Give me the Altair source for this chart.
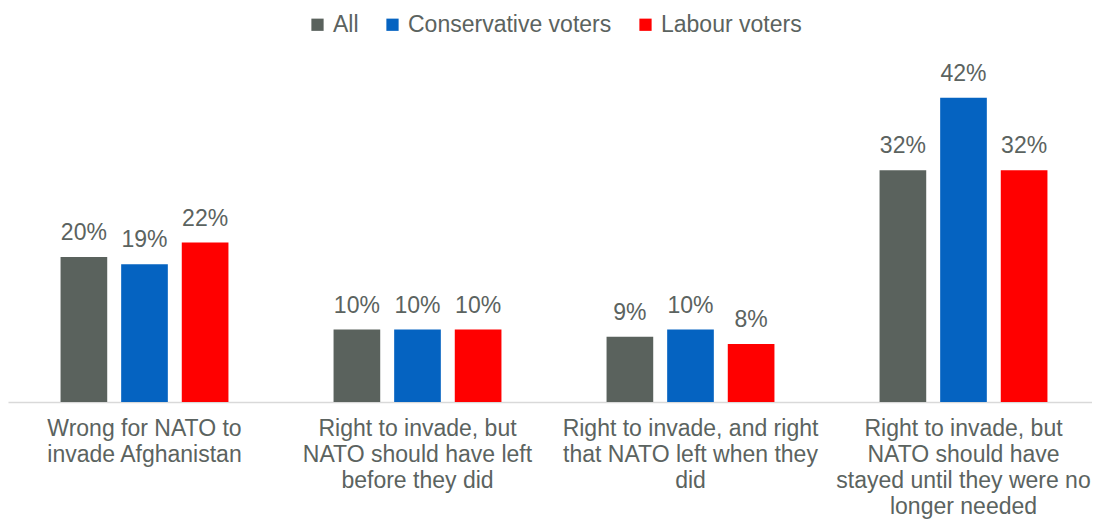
import json
import altair as alt
import pandas as pd

categories = [
    "Wrong for NATO to invade Afghanistan",
    "Right to invade, but NATO should have left before they did",
    "Right to invade, and right that NATO left when they did",
    "Right to invade, but NATO should have stayed until they were no longer needed",
]
category_lines = [
    ["Wrong for NATO to", "invade Afghanistan"],
    ["Right to invade, but", "NATO should have left", "before they did"],
    ["Right to invade, and right", "that NATO left when they", "did"],
    ["Right to invade, but", "NATO should have", "stayed until they were no", "longer needed"],
]
series = ["All", "Conservative voters", "Labour voters"]
all_vals = [20, 10, 9, 32]
con_vals = [19, 10, 10, 42]
lab_vals = [22, 10, 8, 32]
colors = ["#5A625D", "#0563C1", "#FF0000"]
text_color = "#5B6360"

rows = []
for i, c in enumerate(categories):
    for s, vals in zip(series, [all_vals, con_vals, lab_vals]):
        rows.append({"category": c, "series": s, "value": vals[i], "label": f"{vals[i]}%"})
df = pd.DataFrame(rows)

label_map = json.dumps(dict(zip(categories, category_lines)))

x_enc = alt.X(
    "category:N",
    sort=categories,
    scale=alt.Scale(range=[0, 1092], paddingInner=0.385, paddingOuter=0.1925),
    axis=alt.Axis(
        title=None,
        labelAngle=0,
        ticks=False,
        tickSize=0,
        labelPadding=15,
        labelFontSize=23,
        labelFont="Liberation Sans",
        labelColor=text_color,
        labelLineHeight=26,
        labelBaseline="top",
        labelExpr=f"{label_map}[datum.label]",
        domainColor="#D9D9D9",
        domainWidth=1.5,
        labelLimit=400,
    ),
)
xo_enc = alt.XOffset("series:N", sort=series, scale=alt.Scale(paddingInner=0.23, paddingOuter=0))
y_enc = alt.Y("value:Q", scale=alt.Scale(domain=[0, 45], nice=False), axis=None)

bars = alt.Chart(df).mark_bar().encode(
    x=x_enc,
    xOffset=xo_enc,
    y=y_enc,
    color=alt.Color(
        "series:N",
        sort=series,
        scale=alt.Scale(domain=series, range=colors),
        legend=alt.Legend(
            title=None,
            orient="none",
            direction="horizontal",
            legendX=298,
            legendY=-63,
            symbolType="square",
            symbolSize=150,
            symbolStrokeWidth=0,
            labelFontSize=23,
            labelFont="Liberation Sans",
            labelColor=text_color,
            labelOffset=4,
            labelLimit=0,
            columnPadding=22,
            padding=0,
        ),
    ),
)

labels = alt.Chart(df).mark_text(
    baseline="middle", dy=-24, fontSize=23, font="Liberation Sans", color=text_color
).encode(
    x=x_enc,
    xOffset=xo_enc,
    y=y_enc,
    text="label:N",
)

chart = (
    alt.layer(bars, labels)
    .properties(
        width=1084,
        height=326,
        autosize=alt.AutoSizeParams(type="none"),
        padding={"left": 0, "right": 0, "top": 68, "bottom": 117},
    )
    .configure_view(stroke=None)
    .configure_axis(grid=False)
)

chart.save("out.html", embed_options={"renderer": "svg", "actions": False})
